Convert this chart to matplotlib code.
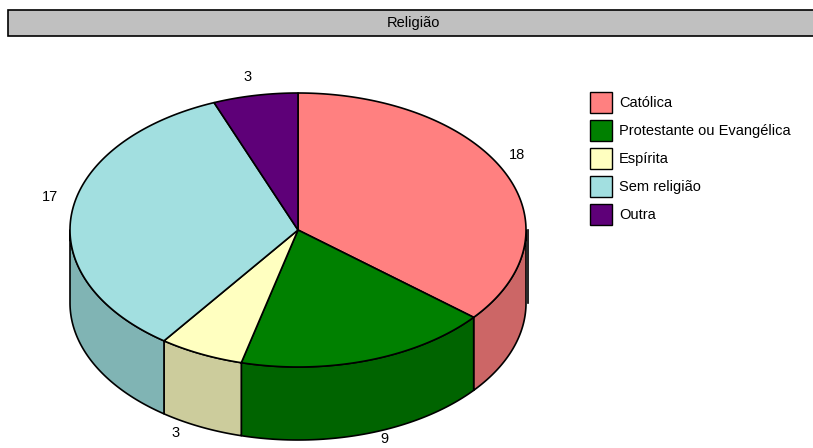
import numpy as np
import matplotlib
matplotlib.use("Agg")
import matplotlib.pyplot as plt
from matplotlib.patches import Polygon, Rectangle

# ---- data ----
title = "Religião"
categories = ["Católica", "Protestante ou Evangélica", "Espírita", "Sem religião", "Outra"]
values = [18, 9, 3, 17, 3]
top_colors = ["#FF8080", "#008000", "#FFFFC0", "#A2DFE0", "#5E0078"]
side_colors = ["#CC6666", "#006400", "#CCCC9C", "#80B4B4", "#4B0060"]

plt.rcParams['font.family'] = ['Liberation Sans', 'DejaVu Sans']

W, H = 813, 448
fig = plt.figure(figsize=(W / 100, H / 100), dpi=100)
ax = fig.add_axes([0, 0, 1, 1])
ax.set_xlim(0, W)
ax.set_ylim(H, 0)
ax.axis("off")

# geometry (pixel units)
cx, cy, rx, ry, depth = 298, 230, 228, 137, 73

def ell(t):
    t = np.radians(t)
    return cx + rx * np.cos(t), cy - ry * np.sin(t)

total = float(sum(values))
starts, ends = [], []
a = 90.0
for v in values:
    starts.append(a)
    a -= 360.0 * v / total
    ends.append(a)

# side faces (front half: angles in [-180, 0])
for s, e, sc in zip(starts, ends, side_colors):
    lo, hi = max(e, -180.0), min(s, 0.0)
    if hi <= lo:
        continue
    t = np.linspace(lo, hi, 100)
    x, y = ell(t)
    xs = np.concatenate([x, x[::-1]])
    ys = np.concatenate([y, y[::-1] + depth])
    ax.add_patch(Polygon(np.column_stack([xs, ys]), closed=True, facecolor=sc,
                         edgecolor="black", linewidth=1.2, joinstyle="round"))

# top wedges
for s, e, tc in zip(starts, ends, top_colors):
    t = np.linspace(e, s, 200)
    x, y = ell(t)
    xs = np.concatenate([[cx], x])
    ys = np.concatenate([[cy], y])
    ax.add_patch(Polygon(np.column_stack([xs, ys]), closed=True, facecolor=tc,
                         edgecolor="black", linewidth=1.2, joinstyle="round"))

# small edge artifact line at right
ax.plot([cx + rx + 2, cx + rx + 2], [cy, cy + depth], color="black", lw=1.2)

# value labels
A, B, yoff = 246, 140, -15
for s, e, v in zip(starts, ends, values):
    m = np.radians((s + e) / 2)
    lx = cx - 4 + A * np.cos(m)
    ly = cy + yoff - B * np.sin(m)
    if np.sin(m) < -0.2:
        ly += depth + 18
        lx += 14 * np.sign(np.cos(m))
    ax.text(lx, ly, str(v), ha="center", va="center", fontsize=10.5, color="black")

# title bar
ax.add_patch(Rectangle((8, 10), W + 10 - 8, 26, facecolor="#C0C0C0",
                       edgecolor="black", linewidth=1.2))
ax.text(413, 23.5, title, ha="center", va="center", fontsize=10.5, color="black")

# legend
lx0, ly0, step = 590, 92, 28
for i, (c, tc) in enumerate(zip(categories, top_colors)):
    y0 = ly0 + i * step
    ax.add_patch(Rectangle((lx0, y0), 22, 21, facecolor=tc, edgecolor="black", linewidth=1.0))
    ax.text(lx0 + 29, y0 + 11, c, ha="left", va="center", fontsize=10.5, color="black")

fig.savefig("out.png", dpi=100)
